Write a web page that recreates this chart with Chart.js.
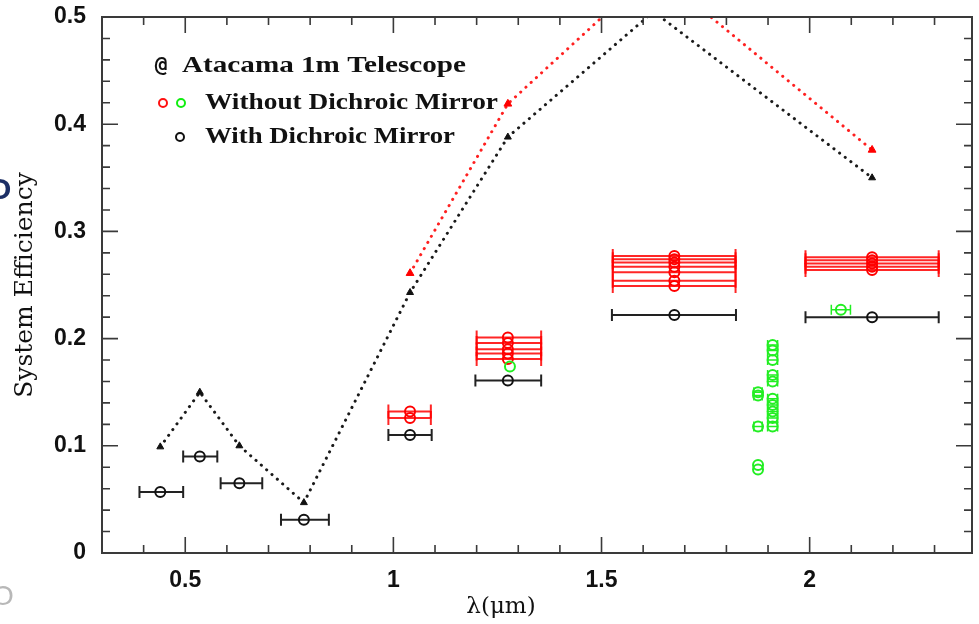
<!DOCTYPE html>
<html><head><meta charset="utf-8">
<script src="https://cdn.jsdelivr.net/npm/chart.js@4/dist/chart.umd.min.js"></script>
<style>html,body{margin:0;padding:0;background:#fff}#wrap{width:979px;height:624px}</style>
</head><body><div id="wrap"><canvas id="c" width="979" height="624"></canvas></div>
<script>
// ---- Data ----
const xTickLabels = ['0.5', '1', '1.5', '2'];
const yTickLabels = ['0', '0.1', '0.2', '0.3', '0.4', '0.5'];

// model efficiency curves (triangles, dotted lines)
const withBandX = [0.44, 0.535, 0.63, 0.785, 1.04, 1.275, 1.625, 2.15];
const withCurve = [0.099, 0.150, 0.100, 0.047, 0.243, 0.388, 0.505, 0.350];
const withoutBandX = [1.04, 1.275, 1.625, 2.15];
const withoutCurve = [0.261, 0.419, 0.544, 0.376];

// measured, with dichroic mirror (black)
const withX   = [0.44, 0.535, 0.63, 0.785, 1.04, 1.275, 1.675, 2.15];
const withY   = [0.057, 0.090, 0.065, 0.031, 0.110, 0.161, 0.222, 0.220];
const withXlo = [0.39, 0.495, 0.585, 0.73, 0.988, 1.197, 1.525, 1.99];
const withXhi = [0.495, 0.577, 0.685, 0.845, 1.092, 1.355, 1.823, 2.31];

// measured, without dichroic mirror (red)
const redX   = [1.04, 1.04, 1.275, 1.275, 1.275, 1.275, 1.275,
                1.675, 1.675, 1.675, 1.675, 1.675, 1.675, 1.675,
                2.15, 2.15, 2.15, 2.15, 2.15];
const redY   = [0.132, 0.126, 0.201, 0.196, 0.190, 0.186, 0.181,
                0.277, 0.274, 0.271, 0.267, 0.262, 0.254, 0.249,
                0.276, 0.273, 0.270, 0.267, 0.264];
const redXlo = [0.988, 0.988, 1.2, 1.2, 1.2, 1.2, 1.2,
                1.527, 1.527, 1.527, 1.527, 1.527, 1.527, 1.527,
                1.99, 1.99, 1.99, 1.99, 1.99];
const redXhi = [1.09, 1.09, 1.355, 1.355, 1.355, 1.355, 1.355,
                1.822, 1.822, 1.822, 1.822, 1.822, 1.822, 1.822,
                2.31, 2.31, 2.31, 2.31, 2.31];

// measured, without dichroic mirror (green)
const greenX   = [1.28, 2.075,
                  1.876, 1.876, 1.876, 1.876, 1.876,
                  1.911, 1.911, 1.911, 1.911, 1.911, 1.911, 1.911, 1.911, 1.911, 1.911];
const greenY   = [0.174, 0.227,
                  0.150, 0.147, 0.118, 0.082, 0.078,
                  0.194, 0.189, 0.180, 0.166, 0.160, 0.144, 0.138, 0.132, 0.126, 0.118];
const greenXlo = [1.28, 2.052,
                  1.866, 1.866, 1.866, 1.876, 1.876,
                  1.899, 1.899, 1.899, 1.899, 1.899, 1.899, 1.899, 1.899, 1.899, 1.899];
const greenXhi = [1.28, 2.098,
                  1.886, 1.886, 1.886, 1.876, 1.876,
                  1.923, 1.923, 1.923, 1.923, 1.923, 1.923, 1.923, 1.923, 1.923, 1.923];

const legendLines = ['Atacama 1m Telescope', 'Without Dichroic Mirror', 'With Dichroic Mirror'];

// ---- helpers ----
const pts = (xs, ys) => xs.map((x, i) => ({x, y: ys[i]}));

const errorBarPlugin = {
  id: 'errbars',
  beforeDatasetDraw(chart, args) {
    const ds = chart.data.datasets[args.index];
    if (!ds.errLo) return;
    const xs = chart.scales.x, ys = chart.scales.y, ctx = chart.ctx;
    const a = chart.chartArea;
    ctx.save();
    ctx.beginPath(); ctx.rect(a.left, a.top, a.right - a.left, a.bottom - a.top); ctx.clip();
    ctx.strokeStyle = ds.errColor; ctx.lineWidth = ds.errWidth;
    ds.data.forEach((p, i) => {
      const lo = ds.errLo[i], hi = ds.errHi[i];
      if (lo === hi) return;
      const x0 = xs.getPixelForValue(lo), x1 = xs.getPixelForValue(hi), y = ys.getPixelForValue(p.y);
      const c = ds.capHalf;
      ctx.beginPath();
      ctx.moveTo(x0, y); ctx.lineTo(x1, y);
      ctx.moveTo(x0, y - c); ctx.lineTo(x0, y + c);
      ctx.moveTo(x1, y - c); ctx.lineTo(x1, y + c);
      ctx.stroke();
    });
    ctx.restore();
  }
};

function fitText(ctx, text, x, y, width) {
  const w = ctx.measureText(text).width;
  ctx.save(); ctx.translate(x, y); ctx.scale(width / w, 1); ctx.fillText(text, 0, 0); ctx.restore();
}

const framePlugin = {
  id: 'frame',
  afterDraw(chart) {
    const ctx = chart.ctx, a = chart.chartArea, xs = chart.scales.x, ys = chart.scales.y;
    ctx.save();
    ctx.strokeStyle = '#3a3a3a'; ctx.lineWidth = 2;
    ctx.strokeRect(a.left, a.top, a.right - a.left, a.bottom - a.top);
    ctx.lineWidth = 1.6;
    ctx.beginPath();
    for (let k = 3; k <= 23; k++) {
      const v = k / 10, px = xs.getPixelForValue(v);
      if (px < a.left + 1 || px > a.right - 1) continue;
      const L = (k % 5 === 0) ? 16 : 8;
      ctx.moveTo(px, a.bottom); ctx.lineTo(px, a.bottom - L);
      ctx.moveTo(px, a.top); ctx.lineTo(px, a.top + L);
    }
    for (let k = 1; k < 25; k++) {
      const v = k * 0.02, py = ys.getPixelForValue(v);
      const L = (k % 5 === 0) ? 16 : 8;
      ctx.moveTo(a.left, py); ctx.lineTo(a.left + L, py);
      ctx.moveTo(a.right, py); ctx.lineTo(a.right - L, py);
    }
    ctx.stroke();

    // legend
    ctx.fillStyle = '#111';
    ctx.textBaseline = 'alphabetic';
    ctx.font = 'bold 21px "DejaVu Sans Mono"';
    ctx.textAlign = 'center';
    ctx.fillText('@', 161, 72);
    ctx.textAlign = 'left';
    ctx.font = 'bold 23px "Liberation Serif"';
    fitText(ctx, legendLines[0], 182, 72, 284);
    fitText(ctx, legendLines[1], 205, 109, 293);
    fitText(ctx, legendLines[2], 205, 143, 250);
    ctx.lineWidth = 2;
    [['#ff1010', 163, 103], ['#10ee10', 181, 103], ['#111', 180, 137]].forEach(([c, x, y]) => {
      ctx.strokeStyle = c; ctx.beginPath(); ctx.arc(x, y, 4, 0, Math.PI * 2); ctx.stroke();
    });

    // x axis title
    ctx.fillStyle = '#111';
    ctx.font = '23px "DejaVu Serif"';
    ctx.textAlign = 'center'; ctx.textBaseline = 'middle';
    ctx.fillText('\u03bb(\u03bcm)', 501, 607);

    // stray marks from the source figure edge
    ctx.font = 'bold 30px "Liberation Sans"';
    ctx.textAlign = 'left';
    ctx.fillStyle = '#1c2f66';
    ctx.fillText('O', -12, 191);
    ctx.fillStyle = '#b8b8b8';
    ctx.font = '28px "Liberation Sans"';
    ctx.fillText('O', -8, 597);
    ctx.restore();
  }
};

const ctx = document.getElementById('c').getContext('2d');
new Chart(ctx, {
  type: 'scatter',
  data: {
    datasets: [
      {
        label: 'Without dichroic (model)', data: pts(withoutBandX, withoutCurve), showLine: true,
        borderColor: '#ff2020', borderWidth: 3, borderDash: [0.1, 7], borderCapStyle: 'round',
        pointStyle: 'triangle', pointRadius: 4.5, pointBackgroundColor: '#ff0000', pointBorderColor: '#ff0000', pointBorderWidth: 1
      },
      {
        label: 'With dichroic (model)', data: pts(withBandX, withCurve), showLine: true,
        borderColor: '#1a1a1a', borderWidth: 3, borderDash: [0.1, 7], borderCapStyle: 'round',
        pointStyle: 'triangle', pointRadius: 4, pointBackgroundColor: '#111', pointBorderColor: '#111', pointBorderWidth: 1
      },
      {
        label: 'Without dichroic (green)', data: pts(greenX, greenY), errLo: greenXlo, errHi: greenXhi,
        errColor: '#22ee22', errWidth: 1.5, capHalf: 5,
        pointStyle: 'circle', pointRadius: 5, pointBackgroundColor: 'rgba(0,0,0,0)', pointBorderColor: '#22ee22', pointBorderWidth: 2
      },
      {
        label: 'Without dichroic (red)', data: pts(redX, redY), errLo: redXlo, errHi: redXhi,
        errColor: 'rgba(255,0,0,0.85)', errWidth: 2, capHalf: 7,
        pointStyle: 'circle', pointRadius: 5, pointBackgroundColor: 'rgba(0,0,0,0)', pointBorderColor: '#ff0000', pointBorderWidth: 2
      },
      {
        label: 'With dichroic', data: pts(withX, withY), errLo: withXlo, errHi: withXhi,
        errColor: '#222', errWidth: 2, capHalf: 6,
        pointStyle: 'circle', pointRadius: 5, pointBackgroundColor: 'rgba(0,0,0,0)', pointBorderColor: '#111', pointBorderWidth: 2
      }
    ]
  },
  options: {
    responsive: false, animation: false, devicePixelRatio: 1,
    layout: { padding: { top: 17, right: 4, left: 0, bottom: 0 } },
    plugins: { legend: { display: false }, tooltip: { enabled: false } },
    scales: {
      x: {
        type: 'linear', min: 0.3, max: 2.39,
        grid: { display: false }, border: { display: false },
        afterBuildTicks: s => { s.ticks = xTickLabels.map(t => ({ value: parseFloat(t) })); },
        afterFit: s => { s.height = 71; s.paddingLeft = 0; s.paddingRight = 0; },
        ticks: { padding: 6, color: '#111', font: { family: 'Liberation Sans', size: 23, weight: 'bold' },
                 callback: v => xTickLabels.find(t => parseFloat(t) === v) },
        title: { display: false }
      },
      y: {
        type: 'linear', min: 0, max: 0.5,
        grid: { display: false }, border: { display: false },
        afterBuildTicks: s => { s.ticks = yTickLabels.map(t => ({ value: parseFloat(t) })); },
        afterFit: s => { s.width = 102; s.paddingTop = 0; s.paddingBottom = 0; },
        ticks: { padding: 8, color: '#111', font: { family: 'Liberation Sans', size: 23, weight: 'bold' },
                 callback: v => yTickLabels.find(t => parseFloat(t) === v) },
        title: { display: true, text: 'System Efficiency', color: '#111',
                 font: { family: 'DejaVu Serif', size: 25 }, padding: { top: 10, bottom: 0 } }
      }
    }
  },
  plugins: [errorBarPlugin, framePlugin]
});
</script>
</body></html>
